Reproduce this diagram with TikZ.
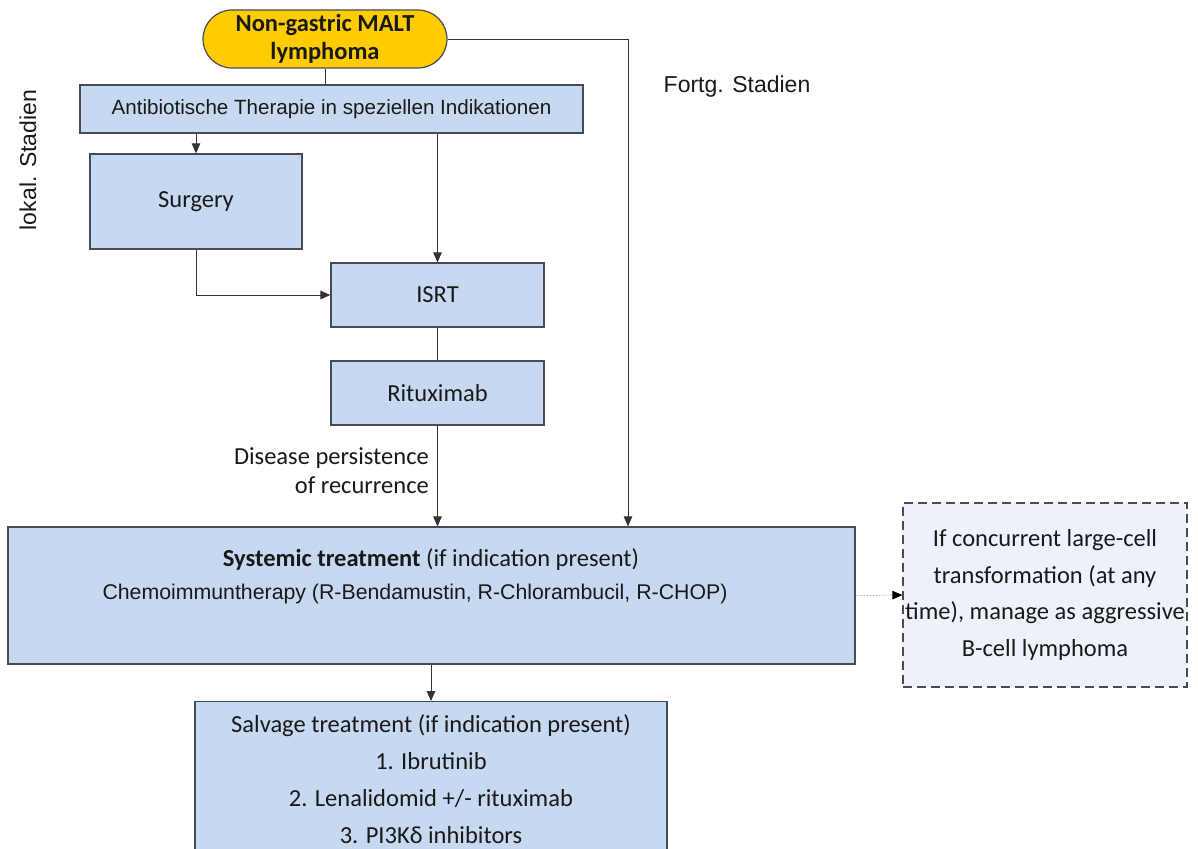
\documentclass[tikz,border=0pt]{standalone}
\usepackage{fontspec}
\setmainfont{Carlito}
\newfontfamily\arialfont{Liberation Sans}
\usepackage{xcolor}
\definecolor{Col1}{RGB}{198,217,240}
\definecolor{Col2}{RGB}{70,75,85}
\definecolor{Col3}{RGB}{255,204,0}
\definecolor{Col4}{RGB}{237,242,250}
\usetikzlibrary{arrows.meta}
\tikzstyle{Box}=[rectangle,draw=Col2,fill=Col1,line width=1.2pt,inner sep=0pt,
text=black!90,font=\fontsize{24.5}{28}\selectfont]
\tikzstyle{Start}=[Box,fill=Col3,rounded corners=29pt,align=center,
font=\bfseries\fontsize{24.5}{28}\selectfont]
\tikzstyle{Note}=[Box,fill=Col4,dashed,dash pattern=on 9pt off 5pt,align=center,
font=\fontsize{24.5}{36.7}\selectfont]
\tikzstyle{NodeST}=[inner sep=0pt,text=black!90,font=\fontsize{24.5}{28}\selectfont]
\tikzstyle{SideST}=[NodeST,font=\arialfont\fontsize{23}{26}\selectfont]
\tikzstyle{Edge}=[draw=black!80,line width=0.9pt]
\tikzstyle{Arrow}=[Edge,-{Triangle[length=10pt,width=8.5pt]}]
\tikzstyle{Dots}=[draw=black!45,line width=0.9pt,dotted,
-{Triangle[length=10pt,width=8.5pt,color=black]}]

\begin{document}
\begin{tikzpicture}[x=1pt,y={(0pt,-1pt)}]
        \clip(0,0)rectangle(1198,848);
        \node[Start,minimum width=244pt,minimum height=58pt](malt)at(325,39){Non-gastric MALT\\lymphoma};
        \node[Box,minimum width=503pt,minimum height=48pt,
            font=\arialfont\fontsize{20.6}{24}\selectfont](anti)at(331.5,109){Antibiotische Therapie in speziellen Indikationen};
        \node[Box,minimum width=212pt,minimum height=95pt](surg)at(196,201.5){Surgery};
        \node[Box,minimum width=213pt,minimum height=64pt](isrt)at(437.5,295){ISRT};
        \node[Box,minimum width=213pt,minimum height=64pt](ritux)at(437.5,393){Rituximab};
        \node[Box,minimum width=847pt,minimum height=137pt](sys)at(431.5,595.5){};
        \node[NodeST](sys1)at(431,560){\textbf{Systemic treatment} (if indication present)};
        \node[SideST,font=\arialfont\fontsize{21.3}{24}\selectfont](sys2)at(415,594){Chemoimmuntherapy (R-Bendamustin, R-Chlorambucil, R-CHOP)};
        \node[Note,minimum width=284pt,minimum height=184pt](trans)at(1045,595){If concurrent large-cell\\transformation (at any\\time), manage as aggressive\\B-cell lymphoma};
        \node[Box,minimum width=472pt,minimum height=200pt,anchor=north](salv)at(431,701){};
        \node[NodeST,align=center,font=\fontsize{24.5}{37}\selectfont](salv1)at(431,779){Salvage treatment (if indication present)\\1. Ibrutinib\\2. Lenalidomid +/- rituximab\\3. PI3Kδ inhibitors};
        \node[NodeST,align=right,anchor=east,font=\fontsize{24.5}{29}\selectfont](dis)at(429,471){Disease persistence\\of recurrence};
        \node[SideST](fortg)at(737,87){Fortg. Stadien};
        \node[SideST,rotate=90](lokal)at(28,160){lokal. Stadien};
        \draw[Edge](malt.south)--(malt.south|-anti.north);
        \draw[Arrow](surg.north|-anti.south)--(surg.north);
        \draw[Arrow](isrt.north|-anti.south)--(isrt.north);
        \draw[Arrow](surg.south)|-(isrt.west);
        \draw[Edge](isrt)--(ritux);
        \draw[Arrow](ritux.south)--(ritux.south|-sys.north);
        \draw[Arrow](malt.east)-|([xshift=196.5pt]sys.north);
        \draw[Arrow](salv.north|-sys.south)--(salv.north);
        \draw[Dots](sys.east)--(trans.west);
    \end{tikzpicture}
\end{document}
